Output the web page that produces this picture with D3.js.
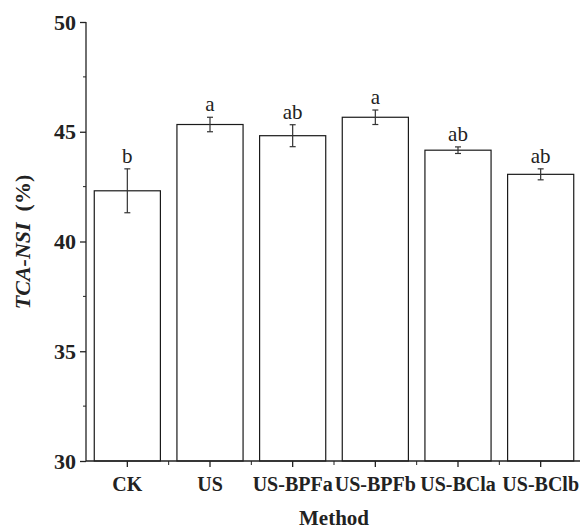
<!DOCTYPE html>
<html><head><meta charset="utf-8">
<script src="https://cdn.jsdelivr.net/npm/d3@7"></script>
<style>html,body{margin:0;padding:0;background:#fff;}svg{display:block;}</style>
</head><body>
<div id="chart"></div>
<script>
const categories = ["CK","US","US-BPFa","US-BPFb","US-BCla","US-BClb"];
const means = [42.31, 45.33, 44.82, 45.66, 44.16, 43.06];
const errors = [1.00, 0.33, 0.50, 0.33, 0.15, 0.25];
const letters = ["b","a","ab","a","ab","ab"];
const yTicks = [30, 35, 40, 45, 50];
const yMinorTicks = [32.5, 37.5, 42.5, 47.5];

const W = 580, H = 532;
const mLeft = 86, mRight = 582, mTop = 22, mBottom = 461;
const font = "'Liberation Serif','Times New Roman',serif";

const svg = d3.select("#chart").append("svg").attr("width", W).attr("height", H);

const x = d3.scaleBand().domain(categories).range([mLeft, mRight]).paddingInner(0.2).paddingOuter(0.1);
const y = d3.scaleLinear().domain([30, 50]).range([mBottom, mTop]);

// bars
svg.append("g").selectAll("rect").data(categories).join("rect")
  .attr("x", d => x(d)).attr("width", x.bandwidth())
  .attr("y", (d,i) => y(means[i])).attr("height", (d,i) => y(30) - y(means[i]))
  .attr("fill", "#fff").attr("stroke", "#1a1a1a").attr("stroke-width", 1.2);

// error bars
const eg = svg.append("g").attr("stroke", "#333").attr("stroke-width", 1.2);
categories.forEach((c,i) => {
  const cx = x(c) + x.bandwidth()/2;
  eg.append("line").attr("x1", cx).attr("x2", cx).attr("y1", y(means[i]-errors[i])).attr("y2", y(means[i]+errors[i]));
  eg.append("line").attr("x1", cx-3).attr("x2", cx+3).attr("y1", y(means[i]-errors[i])).attr("y2", y(means[i]-errors[i]));
  eg.append("line").attr("x1", cx-3).attr("x2", cx+3).attr("y1", y(means[i]+errors[i])).attr("y2", y(means[i]+errors[i]));
});

// significance letters
svg.append("g").selectAll("text").data(categories).join("text")
  .attr("x", d => x(d) + x.bandwidth()/2)
  .attr("y", (d,i) => y(means[i]+errors[i]) - 6)
  .attr("text-anchor", "middle").attr("font-family", font).attr("font-size", 21).attr("fill", "#222")
  .text((d,i) => letters[i]);

// y axis
const yAxis = svg.append("g").attr("transform", `translate(${mLeft},0)`)
  .call(d3.axisLeft(y).tickValues(yTicks).tickSize(6).tickPadding(4).tickFormat(d3.format("d")));
yAxis.append("g").selectAll("line").data(yMinorTicks).join("line")
  .attr("x1", -3).attr("x2", 0).attr("y1", d => y(d)).attr("y2", d => y(d)).attr("stroke", "#222");
yAxis.select(".domain").attr("d", `M0,${mBottom}V${mTop}`);

// x axis
const xAxis = svg.append("g").attr("transform", `translate(0,${mBottom})`)
  .call(d3.axisBottom(x).tickSize(6).tickPadding(10));
xAxis.select(".domain").attr("d", `M${mLeft},0H${mRight}`);
const step = x.step();
const bounds = categories.slice(0, -1).map(c => x(c) + x.bandwidth()/2 + step/2);
xAxis.append("g").selectAll("line").data(bounds).join("line")
  .attr("x1", d => d).attr("x2", d => d).attr("y1", 0).attr("y2", 4).attr("stroke", "#222");

[yAxis, xAxis].forEach(a => {
  a.selectAll(".domain").attr("stroke", "#222").attr("stroke-width", 1.3);
  a.selectAll(".tick line").attr("stroke", "#222").attr("stroke-width", 1.3);
  a.selectAll("text").attr("font-family", font).attr("font-weight", "bold").attr("fill", "#222");
});
yAxis.selectAll(".tick text").attr("font-size", 22);
xAxis.selectAll(".tick text").attr("font-size", 20).attr("dy", "0.71em");

// axis titles
svg.append("text").attr("x", (mLeft+mRight)/2).attr("y", 525).attr("text-anchor", "middle")
  .attr("font-family", font).attr("font-weight", "bold").attr("font-size", 21).attr("fill", "#222").text("Method");

const yl = svg.append("text").attr("transform", `translate(30,242) rotate(-90)`).attr("text-anchor", "middle")
  .attr("font-family", font).attr("font-weight", "bold").attr("font-size", 22).attr("fill", "#222");
yl.append("tspan").attr("font-style", "italic").text("TCA-NSI");
yl.append("tspan").text("\u00a0\u00a0(%)");
</script>
</body></html>
